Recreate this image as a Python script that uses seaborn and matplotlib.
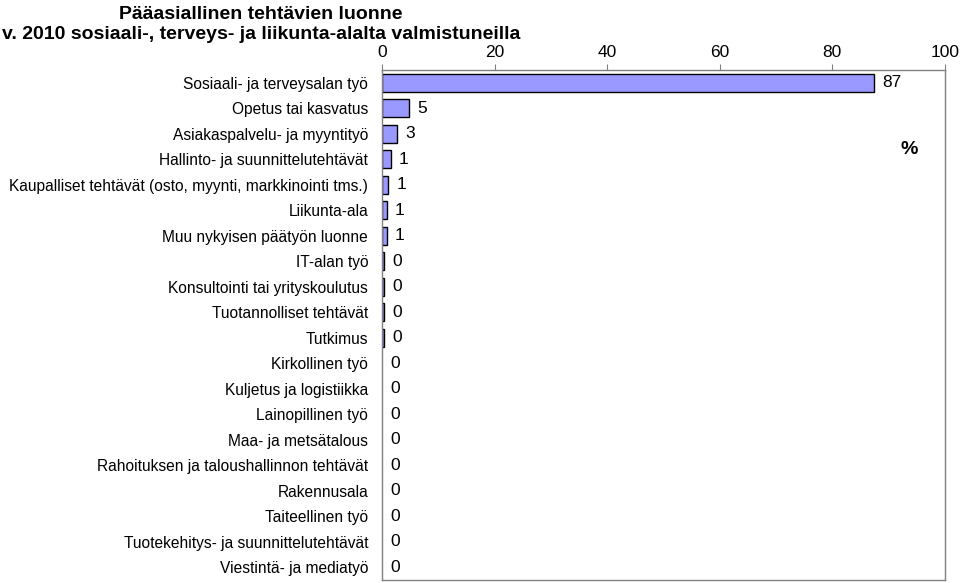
import matplotlib
matplotlib.use("Agg")
import matplotlib.pyplot as plt
import seaborn as sns
import pandas as pd
import numpy as np

categories = [
    "Sosiaali- ja terveysalan työ",
    "Opetus tai kasvatus",
    "Asiakaspalvelu- ja myyntityö",
    "Hallinto- ja suunnittelutehtävät",
    "Kaupalliset tehtävät (osto, myynti, markkinointi tms.)",
    "Liikunta-ala",
    "Muu nykyisen päätyön luonne",
    "IT-alan työ",
    "Konsultointi tai yrityskoulutus",
    "Tuotannolliset tehtävät",
    "Tutkimus",
    "Kirkollinen työ",
    "Kuljetus ja logistiikka",
    "Lainopillinen työ",
    "Maa- ja metsätalous",
    "Rahoituksen ja taloushallinnon tehtävät",
    "Rakennusala",
    "Taiteellinen työ",
    "Tuotekehitys- ja suunnittelutehtävät",
    "Viestintä- ja mediatyö",
]
values = [87.4, 4.8, 2.6, 1.5, 1.1, 0.8, 0.8, 0.35, 0.35, 0.35, 0.35,
          0, 0, 0, 0, 0, 0, 0, 0, 0]
value_labels = ["87", "5", "3", "1", "1", "1", "1", "0", "0", "0", "0",
                "0", "0", "0", "0", "0", "0", "0", "0", "0"]
x_ticks = [0, 20, 40, 60, 80, 100]

sns.set_style("white")
plt.rcParams["font.family"] = ["Liberation Sans", "DejaVu Sans"]
plt.rcParams["text.color"] = "black"
plt.rcParams["xtick.color"] = "black"
plt.rcParams["ytick.color"] = "black"

df = pd.DataFrame({"cat": categories, "val": values})

fig = plt.figure(figsize=(9.6, 5.83), dpi=100)
ax = fig.add_axes([0.398, 0.005, 0.586, 0.875])
sns.barplot(data=df, y="cat", x="val", orient="h", color="#9999FF",
            saturation=1, edgecolor="black", linewidth=1.0, width=0.7, ax=ax)
for p, v in zip(ax.patches, values):
    if v == 0:
        p.set_linewidth(0)

ax.set_xlim(0, 100)
ax.set_ylim(len(categories) - 0.5, -0.5)
ax.set_xticks(x_ticks)
ax.xaxis.tick_top()
ax.tick_params(axis="x", which="major", direction="out", length=4, width=0.8,
               labelsize=12.5, pad=3, top=True, bottom=False, color="#808080")
ax.set_yticks(range(len(categories)))
ax.set_yticklabels(categories, fontsize=11.2)
ax.tick_params(axis="y", which="major", length=0, pad=10)
ax.set_yticks(np.arange(-0.5, len(categories), 1), minor=True)
ax.tick_params(axis="y", which="minor", direction="out", length=4, width=0.8,
               color="#808080")
ax.set_xlabel("")
ax.set_ylabel("")
for s in ["left", "top", "right", "bottom"]:
    ax.spines[s].set_visible(True)
    ax.spines[s].set_color("#808080")
    ax.spines[s].set_linewidth(1.0)

for i, (v, lab) in enumerate(zip(values, value_labels)):
    ax.text(v + 1.5, i, lab, va="center", ha="left", fontsize=12.5)

ax.text(0.937, 0.845, "%", transform=ax.transAxes, fontsize=14,
        fontweight="bold", ha="center", va="center")

fig.text(0.272, 0.99, "Pääasiallinen tehtävien luonne", ha="center", va="top",
         fontsize=14, fontweight="bold")
fig.text(0.272, 0.955, "v. 2010 sosiaali-, terveys- ja liikunta-alalta valmistuneilla",
         ha="center", va="top", fontsize=14, fontweight="bold")

fig.savefig("out.png", dpi=100)
